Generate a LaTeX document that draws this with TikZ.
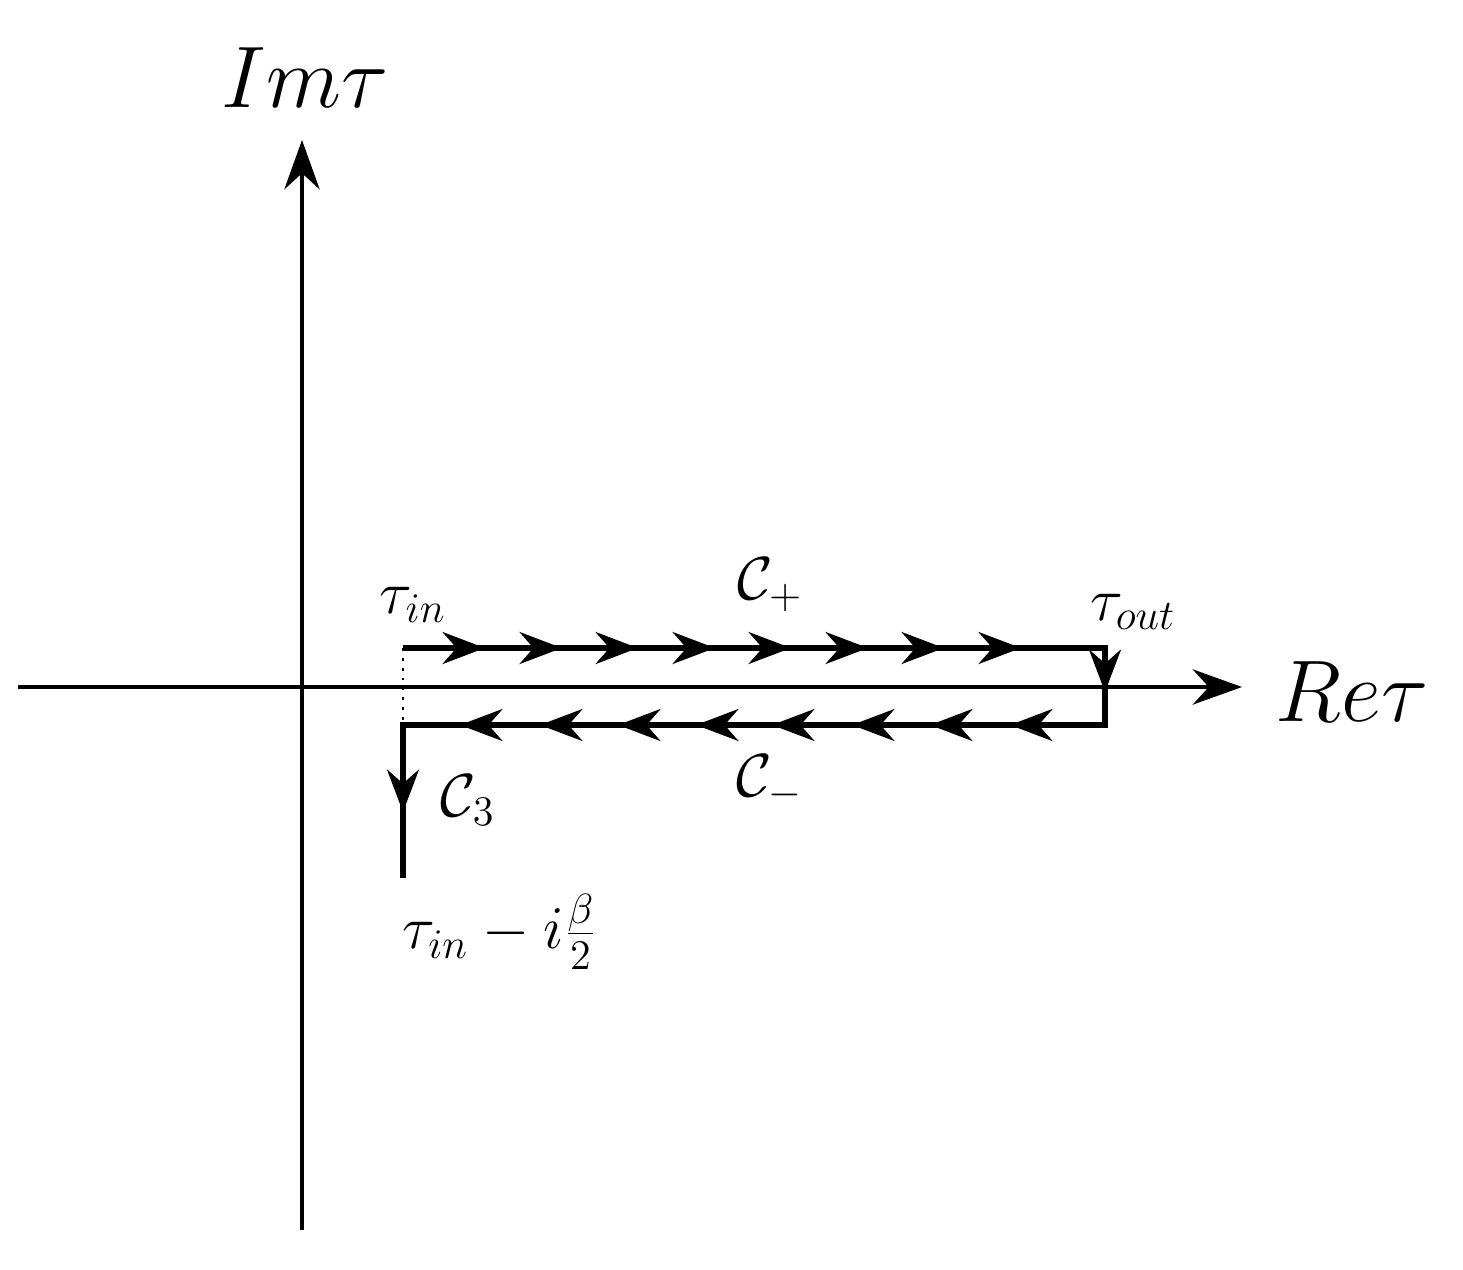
\documentclass[tikz,border=0pt]{standalone}
\usetikzlibrary{arrows.meta,decorations.markings}
\begin{document}
\begin{tikzpicture}[x=0.01cm,y=-0.01cm,
  axis/.style={line width=1.2pt,-{Stealth[length=14pt,width=10pt]}},
  path/.style={line width=1.8pt},
  tip/.style={-{Stealth[length=12pt,width=9pt]}},
  big/.style={font=\fontsize{24}{28}\selectfont},
  lab/.style={font=\fontsize{17}{20}\selectfont}]
\useasboundingbox (0,0) rectangle (1463,1269);
\coordinate (xl) at (18,687); \coordinate (xr) at (1242,687);
\coordinate (yb) at (302,1230); \coordinate (yt) at (302,140);
\draw[axis] (xl) -- (xr);
\draw[axis] (yb) -- (yt);
\coordinate (a) at (403,648); \coordinate (b) at (1105,648);
\coordinate (c) at (1105,725); \coordinate (d) at (403,725);
\coordinate (e) at (403,878);
\draw[path] (a) -- (b) -- (c) -- (d) -- (e);
\draw[dotted,line width=0.8pt] (a) -- (d);
\foreach \x in {455,532,608,685,761,838,914,991}
  \draw[path,tip] (\x,648) -- (\x+30,648);
\foreach \x in {1040,960,882,802,726,648,570,490}
  \draw[path,tip] (\x,725) -- (\x-30,725);
\draw[path,tip] (1105,655) -- (1105,692);
\draw[path,tip] (403,775) -- (403,812);
\node[big] (im) at (305,78) {$Im\tau$};
\node[big] (re) at (1352,692) {$Re\tau$};
\node[lab] (tin) at (413,605) {$\tau_{in}$};
\node[lab] (cp) at (770,585) {$\mathcal{C}_+$};
\node[lab] (tout) at (1133,612) {$\tau_{out}$};
\node[lab] (cm) at (770,782) {$\mathcal{C}_-$};
\node[lab] (c3) at (468,800) {$\mathcal{C}_3$};
\node[lab] (tb) at (500,932) {$\tau_{in}-i\frac{\beta}{2}$};
\end{tikzpicture}
\end{document}
